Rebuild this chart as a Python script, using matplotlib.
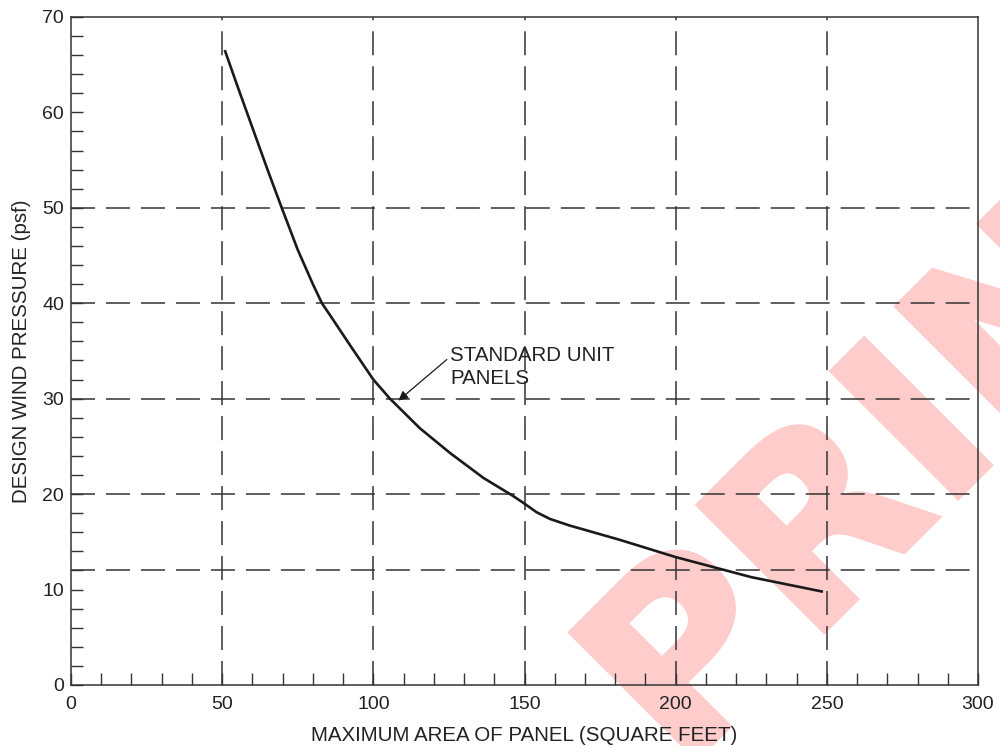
import matplotlib
matplotlib.use('Agg')
import matplotlib.pyplot as pyplot
import matplotlib.patheffects as patheffects
from matplotlib.ticker import MultipleLocator

# Curve (square feet vs psf)
area = [51, 55, 60, 65, 69.7, 75, 80, 83, 86, 92.3, 100, 105.5, 115.4, 125.4,
        136.4, 146, 150, 154, 158.4, 165, 170, 181.6, 200, 225, 248.3]
pressure = [66.4, 62.8, 58.4, 54.0, 50.0, 45.6, 42.0, 40.0, 38.6, 35.6, 32.0, 30.0,
            26.9, 24.3, 21.7, 19.85, 19.0, 18.1, 17.4, 16.7, 16.25, 15.2, 13.4,
            11.3, 9.8]

gridX = [50, 100, 150, 200, 250]
gridY = [12, 20, 30, 40, 50]

pyplot.rcParams['font.family'] = ['Liberation Sans', 'DejaVu Sans']

fig = pyplot.figure(figsize=(10, 7.46), dpi=100)
ax = fig.add_axes([0.071, 0.0818, 0.907, 0.8955])
ax.set_facecolor('none')

# Watermark behind the axes
fig.text(0.681, -0.039, 'PRINT', rotation=45, rotation_mode='anchor',
         ha='left', va='baseline', fontsize=177, fontweight='bold',
         family='DejaVu Sans', color='#ffcccc', zorder=-1,
         path_effects=[patheffects.withStroke(linewidth=3, foreground='#ffcccc',
                                              joinstyle='miter')])

# Dashed grid
gridColor = '#333333'
for gx in gridX:
    ax.axvline(gx, color=gridColor, lw=1.1, dashes=(15.7, 7.2), zorder=1)
for gy in gridY:
    ax.axhline(gy, color=gridColor, lw=1.1, dashes=(15.7, 7.2), zorder=1)

# Curve
ax.plot(area, pressure, color='#1a1a1a', lw=1.9, zorder=3, solid_joinstyle='round')

# Note
ax.annotate('', xy=(108.3, 29.8), xytext=(124.3, 34.1),
            arrowprops=dict(arrowstyle='-|>', color='#1a1a1a', lw=0.9,
                            mutation_scale=14, shrinkA=0, shrinkB=0))
ax.text(125.4, 35.5, 'STANDARD UNIT\nPANELS', ha='left', va='top',
        fontsize=14.8, color='#222222', linespacing=1.25)

# Axes, ticks
ax.set_xlim(0, 300)
ax.set_ylim(0, 70)
ax.xaxis.set_major_locator(MultipleLocator(50))
ax.xaxis.set_minor_locator(MultipleLocator(10))
ax.yaxis.set_major_locator(MultipleLocator(10))
ax.yaxis.set_minor_locator(MultipleLocator(2))
ax.tick_params(which='both', direction='in', length=8.5, width=1.0,
               color='#333333', labelsize=14, labelcolor='#222222')
ax.tick_params(axis='x', pad=8)
ax.tick_params(axis='y', pad=5)
for s in ax.spines.values():
    s.set_color('#333333')
    s.set_linewidth(1.1)

ax.set_xlabel('MAXIMUM AREA OF PANEL (SQUARE FEET)', fontsize=14.8, color='#222222', labelpad=9)
ax.set_ylabel('DESIGN WIND PRESSURE (psf)', fontsize=14.8, color='#222222', labelpad=8)

pyplot.savefig('out.png', dpi=100)
pyplot.close()
